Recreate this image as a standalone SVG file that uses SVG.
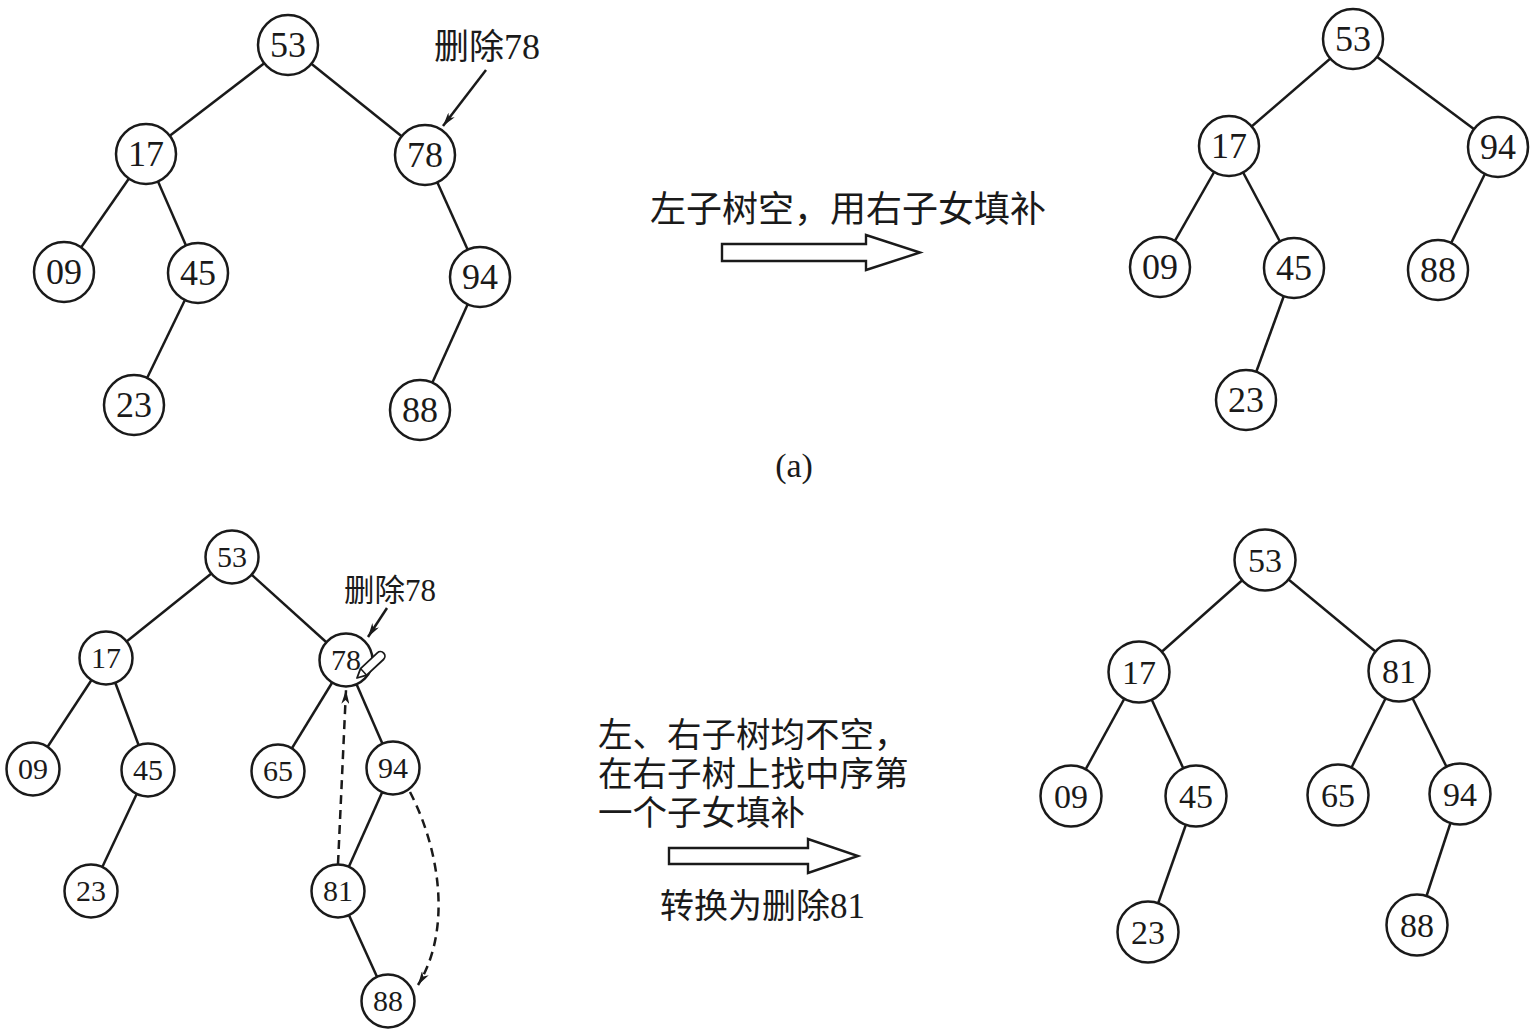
<svg xmlns="http://www.w3.org/2000/svg" width="1536" height="1033" viewBox="0 0 1536 1033">
<defs>
<style>
.n circle{fill:#fff;stroke:#1a1a1a;stroke-width:2.5}
.n text{font-family:"Liberation Serif","Times New Roman",serif;fill:#1a1a1a;text-anchor:middle}
.big text{font-size:36px}
.mid text{font-size:34px}
.sm text{font-size:30px}
.e line,.e path{stroke:#1a1a1a;stroke-width:2.5;fill:none}
.d{stroke-dasharray:9 6}
.lbl{font-family:"Noto Sans CJK SC","Liberation Serif",sans-serif;fill:#1a1a1a}
.num{font-family:"Liberation Serif","Times New Roman",serif}
.hollow{fill:#fff;stroke:#1a1a1a;stroke-width:2.4;stroke-linejoin:miter}
</style>
<marker id="ah" viewBox="0 0 14 8" refX="14" refY="4" markerWidth="14" markerHeight="8" markerUnits="userSpaceOnUse" orient="auto">
<path d="M0,0 L14,4 L0,8 L4,4 z" fill="#1a1a1a"/>
</marker>
</defs>
<rect width="1536" height="1033" fill="#fff"/>

<g id="connectors" class="e">
<!-- top-left -->
<line x1="288" y1="45" x2="146" y2="154"/>
<line x1="288" y1="45" x2="425" y2="155"/>
<line x1="146" y1="154" x2="64" y2="272"/>
<line x1="146" y1="154" x2="198" y2="273"/>
<line x1="198" y1="273" x2="134" y2="405"/>
<line x1="425" y1="155" x2="480" y2="277"/>
<line x1="480" y1="277" x2="420" y2="410"/>
<line x1="486" y1="70" x2="443" y2="126" marker-end="url(#ah)"/>
<!-- top-right -->
<line x1="1353" y1="39" x2="1229" y2="146"/>
<line x1="1353" y1="39" x2="1498" y2="147"/>
<line x1="1229" y1="146" x2="1160" y2="267"/>
<line x1="1229" y1="146" x2="1294" y2="268"/>
<line x1="1294" y1="268" x2="1246" y2="400"/>
<line x1="1498" y1="147" x2="1438" y2="270"/>
<!-- bottom-left -->
<line x1="232" y1="557" x2="106" y2="658"/>
<line x1="232" y1="557" x2="346" y2="660"/>
<line x1="106" y1="658" x2="33" y2="769"/>
<line x1="106" y1="658" x2="148" y2="770"/>
<line x1="148" y1="770" x2="91" y2="891"/>
<line x1="346" y1="660" x2="278" y2="771"/>
<line x1="346" y1="660" x2="393" y2="768"/>
<line x1="393" y1="768" x2="338" y2="891"/>
<line x1="338" y1="891" x2="388" y2="1001"/>
<line x1="387" y1="608" x2="368" y2="637" marker-end="url(#ah)"/>
<!-- bottom-right -->
<line x1="1265" y1="560" x2="1139" y2="672"/>
<line x1="1265" y1="560" x2="1399" y2="671"/>
<line x1="1139" y1="672" x2="1071" y2="796"/>
<line x1="1139" y1="672" x2="1196" y2="796"/>
<line x1="1196" y1="796" x2="1148" y2="932"/>
<line x1="1399" y1="671" x2="1338" y2="795"/>
<line x1="1399" y1="671" x2="1460" y2="794"/>
<line x1="1460" y1="794" x2="1417" y2="925"/>
</g>

<!-- top-left tree -->
<g id="tl-53" class="n big"><circle cx="288" cy="45" r="30"/><text x="288" y="57">53</text></g>
<g id="tl-17" class="n big"><circle cx="146" cy="154" r="30"/><text x="146" y="166">17</text></g>
<g id="tl-78" class="n big"><circle cx="425" cy="155" r="30"/><text x="425" y="167">78</text></g>
<g id="tl-09" class="n big"><circle cx="64" cy="272" r="30"/><text x="64" y="284">09</text></g>
<g id="tl-45" class="n big"><circle cx="198" cy="273" r="30"/><text x="198" y="285">45</text></g>
<g id="tl-94" class="n big"><circle cx="480" cy="277" r="30"/><text x="480" y="289">94</text></g>
<g id="tl-23" class="n big"><circle cx="134" cy="405" r="30"/><text x="134" y="417">23</text></g>
<g id="tl-88" class="n big"><circle cx="420" cy="410" r="30"/><text x="420" y="422">88</text></g>
<text id="tl-label" class="lbl" x="434" y="59" font-size="35">删除<tspan class="num" font-size="36">78</tspan></text>

<!-- top arrow -->
<g id="arrow-a">
<text class="lbl" x="650" y="222" font-size="36">左子树空，用右子女填补</text>
<polygon class="hollow" points="722,244 866,244 866,235 920,252.5 866,270 866,261 722,261"/>
<text class="num" x="794" y="477" font-size="34" text-anchor="middle" fill="#1a1a1a">(a)</text>
</g>

<!-- top-right tree -->
<g id="tr-53" class="n big"><circle cx="1353" cy="39" r="30"/><text x="1353" y="51">53</text></g>
<g id="tr-17" class="n big"><circle cx="1229" cy="146" r="30"/><text x="1229" y="158">17</text></g>
<g id="tr-94" class="n big"><circle cx="1498" cy="147" r="30"/><text x="1498" y="159">94</text></g>
<g id="tr-09" class="n big"><circle cx="1160" cy="267" r="30"/><text x="1160" y="279">09</text></g>
<g id="tr-45" class="n big"><circle cx="1294" cy="268" r="30"/><text x="1294" y="280">45</text></g>
<g id="tr-88" class="n big"><circle cx="1438" cy="270" r="30"/><text x="1438" y="282">88</text></g>
<g id="tr-23" class="n big"><circle cx="1246" cy="400" r="30"/><text x="1246" y="412">23</text></g>

<!-- bottom-left tree -->
<g id="bl-53" class="n sm"><circle cx="232" cy="557" r="26.5"/><text x="232" y="567">53</text></g>
<g id="bl-17" class="n sm"><circle cx="106" cy="658" r="26.5"/><text x="106" y="668">17</text></g>
<g id="bl-78" class="n sm"><circle cx="346" cy="660" r="26.5"/><text x="346" y="670">78</text></g>
<g id="bl-09" class="n sm"><circle cx="33" cy="769" r="26.5"/><text x="33" y="779">09</text></g>
<g id="bl-45" class="n sm"><circle cx="148" cy="770" r="26.5"/><text x="148" y="780">45</text></g>
<g id="bl-65" class="n sm"><circle cx="278" cy="771" r="26.5"/><text x="278" y="781">65</text></g>
<g id="bl-94" class="n sm"><circle cx="393" cy="768" r="26.5"/><text x="393" y="778">94</text></g>
<g id="bl-23" class="n sm"><circle cx="91" cy="891" r="26.5"/><text x="91" y="901">23</text></g>
<g id="bl-81" class="n sm"><circle cx="338" cy="891" r="26.5"/><text x="338" y="901">81</text></g>
<g id="bl-88" class="n sm"><circle cx="388" cy="1001" r="26.5"/><text x="388" y="1011">88</text></g>
<text id="bl-label" class="lbl" x="344" y="601" font-size="30.5">删除<tspan class="num" font-size="31">78</tspan></text>
<g id="pencil" transform="translate(357,678) rotate(-43)">
<path d="M0,0 L9,-4.5 L32,-4.5 A4.5,4.5 0 0 1 32,4.5 L9,4.5 Z" fill="#fff" stroke="#1a1a1a" stroke-width="1.8" stroke-linejoin="round"/>
<line x1="9" y1="-4.5" x2="9" y2="4.5" stroke="#1a1a1a" stroke-width="1.5"/>
</g>

<g id="dashed-arrows" class="e">
<line class="d" x1="338" y1="864" x2="346" y2="690" marker-end="url(#ah)"/>
<path class="d" d="M410,792 C440,850 452,930 418,985" marker-end="url(#ah)"/>
</g>

<!-- bottom arrow -->
<g id="arrow-b">
<text class="lbl" x="598" y="747" font-size="34.5"><tspan x="598" y="747">左、右子树均不空，</tspan><tspan x="598" y="786">在右子树上找中序第</tspan><tspan x="598" y="825">一个子女填补</tspan></text>
<polygon class="hollow" points="669,848 808,848 808,839 858,856 808,873 808,864 669,864"/>
<text class="lbl" x="660" y="918" font-size="34">转换为删除<tspan class="num" font-size="35">81</tspan></text>
</g>

<!-- bottom-right tree -->
<g id="br-53" class="n mid"><circle cx="1265" cy="560" r="30.5"/><text x="1265" y="572">53</text></g>
<g id="br-17" class="n mid"><circle cx="1139" cy="672" r="30.5"/><text x="1139" y="684">17</text></g>
<g id="br-81" class="n mid"><circle cx="1399" cy="671" r="30.5"/><text x="1399" y="683">81</text></g>
<g id="br-09" class="n mid"><circle cx="1071" cy="796" r="30.5"/><text x="1071" y="808">09</text></g>
<g id="br-45" class="n mid"><circle cx="1196" cy="796" r="30.5"/><text x="1196" y="808">45</text></g>
<g id="br-65" class="n mid"><circle cx="1338" cy="795" r="30.5"/><text x="1338" y="807">65</text></g>
<g id="br-94" class="n mid"><circle cx="1460" cy="794" r="30.5"/><text x="1460" y="806">94</text></g>
<g id="br-23" class="n mid"><circle cx="1148" cy="932" r="30.5"/><text x="1148" y="944">23</text></g>
<g id="br-88" class="n mid"><circle cx="1417" cy="925" r="30.5"/><text x="1417" y="937">88</text></g>
</svg>
